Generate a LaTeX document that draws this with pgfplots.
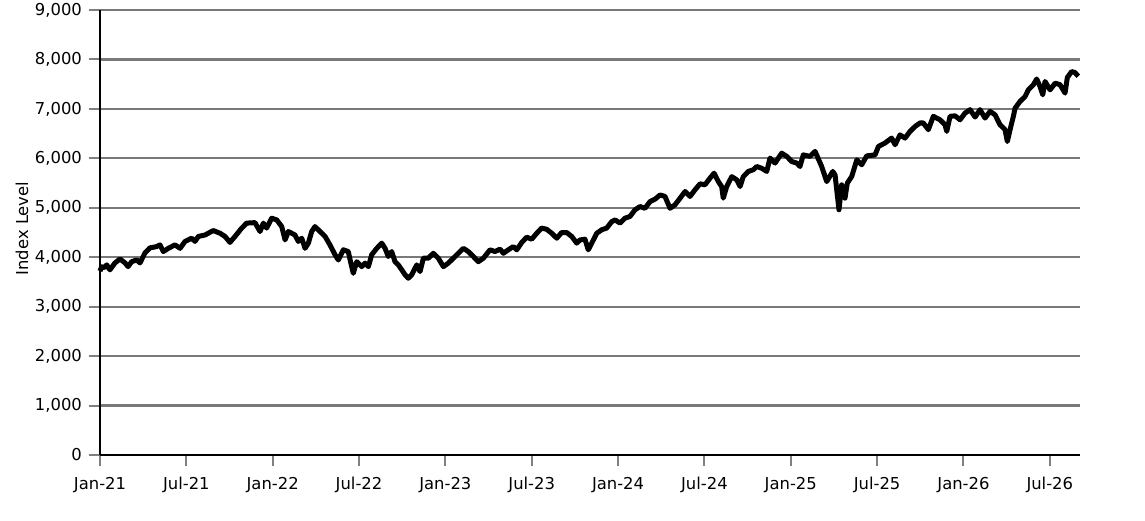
\documentclass[border=0pt]{standalone}
\usepackage{fontspec}
\setmainfont{DejaVu Sans}
\usepackage{pgfplots}
\pgfplotsset{compat=1.18}
\usepackage{pgfplotstable}
\pgfplotstableread{
m v
0.00 3720
0.12 3810
0.30 3790
0.47 3845
0.69 3745
1.04 3885
1.39 3965
1.74 3885
1.95 3810
2.20 3910
2.55 3945
2.78 3885
3.13 4090
3.47 4190
3.94 4215
4.17 4250
4.40 4115
4.75 4180
5.21 4250
5.56 4180
5.91 4320
6.37 4385
6.60 4320
6.83 4420
7.30 4450
7.87 4540
8.34 4485
8.69 4420
9.03 4300
9.38 4420
9.85 4590
10.19 4690
10.77 4700
11.12 4520
11.35 4690
11.58 4590
11.93 4790
12.28 4755
12.63 4620
12.86 4350
13.09 4520
13.32 4485
13.55 4450
13.78 4320
14.02 4385
14.25 4180
14.48 4285
14.71 4520
14.94 4620
15.29 4520
15.64 4420
15.98 4250
16.33 4050
16.56 3945
16.91 4150
17.25 4115
17.49 3810
17.60 3675
17.84 3910
18.19 3810
18.42 3880
18.65 3810
18.88 4050
19.23 4180
19.58 4285
19.81 4180
20.03 4015
20.27 4115
20.50 3910
20.73 3845
20.97 3745
21.20 3645
21.42 3575
21.66 3645
22.01 3845
22.24 3710
22.47 3980
22.81 3980
23.16 4080
23.51 3980
23.86 3810
24.20 3880
24.55 3980
24.90 4080
25.25 4180
25.59 4115
25.94 4015
26.29 3910
26.64 3980
27.10 4150
27.45 4115
27.80 4165
28.03 4080
28.37 4150
28.72 4215
28.96 4150
29.31 4300
29.65 4405
30.00 4365
30.35 4485
30.69 4590
31.04 4565
31.39 4485
31.74 4385
32.08 4500
32.43 4500
32.78 4420
33.13 4285
33.36 4350
33.70 4365
33.93 4150
34.17 4285
34.52 4485
34.86 4555
35.21 4590
35.56 4720
35.79 4755
36.14 4690
36.48 4790
36.83 4825
37.18 4960
37.53 5025
37.87 4990
38.22 5125
38.57 5175
38.92 5260
39.26 5230
39.61 4990
39.96 5060
40.31 5195
40.66 5330
41.00 5230
41.35 5365
41.70 5485
42.04 5465
42.39 5600
42.67 5700
42.97 5530
43.20 5430
43.31 5195
43.55 5430
43.90 5630
44.25 5565
44.48 5430
44.70 5630
45.05 5735
45.40 5770
45.64 5835
45.98 5800
46.33 5735
46.56 6005
46.91 5905
47.37 6105
47.72 6040
48.07 5935
48.42 5905
48.64 5835
48.87 6070
49.34 6040
49.69 6140
50.15 5835
50.50 5530
50.92 5735
51.08 5665
51.35 4960
51.54 5465
51.77 5195
51.93 5500
52.24 5635
52.59 5970
52.93 5870
53.28 6050
53.86 6070
54.09 6240
54.55 6310
55.01 6410
55.25 6275
55.59 6475
55.94 6410
56.29 6545
56.64 6645
56.98 6715
57.21 6715
57.56 6580
57.91 6850
58.37 6780
58.72 6680
58.84 6545
59.07 6850
59.42 6860
59.76 6780
60.11 6915
60.46 6985
60.81 6835
61.15 6985
61.50 6815
61.85 6950
62.20 6880
62.54 6680
62.89 6580
63.05 6340
63.24 6580
63.47 6850
63.59 7015
63.93 7150
64.28 7250
64.51 7385
64.86 7490
65.09 7605
65.32 7455
65.51 7285
65.67 7555
66.02 7385
66.37 7520
66.71 7490
67.06 7320
67.22 7635
67.52 7755
67.75 7735
67.98 7660
}\datatable
\begin{document}
\begin{tikzpicture}
\useasboundingbox (-50pt,-32.5pt) rectangle (522.5pt,227.5pt);
\begin{axis}[
  scale only axis,
  width=490pt, height=222.5pt,
  xmin=0, xmax=68.1,
  ymin=0, ymax=9000,
  axis x line*=bottom,
  axis y line*=left,
  axis line style={black, line width=1pt},
  xtick={0,6,...,66},
  xticklabels={Jan-21,Jul-21,Jan-22,Jul-22,Jan-23,Jul-23,Jan-24,Jul-24,Jan-25,Jul-25,Jan-26,Jul-26},
  ytick={0,1000,...,9000},
  tick align=outside,
  major tick length=5.5pt,
  tick style={gray, line width=1pt},
  ymajorgrids,
  major grid style={gray!95!black, line width=1.1pt},
  y tick label style={/pgf/number format/.cd, 1000 sep={,}, assume math mode=true},
  x tick label style={yshift=-2pt},
  scaled y ticks=false,
  tick label style={font=\fontsize{8.2pt}{10pt}\selectfont},
  ylabel={Index Level},
  ylabel style={font=\fontsize{8.2pt}{10pt}\selectfont, at={(axis description cs:-0.0796,0.509)}, anchor=center},
  clip=false,
]
\addplot[black, line width=2.5pt, line join=round] table[x=m, y=v] {\datatable};
\end{axis}
\end{tikzpicture}
\end{document}
